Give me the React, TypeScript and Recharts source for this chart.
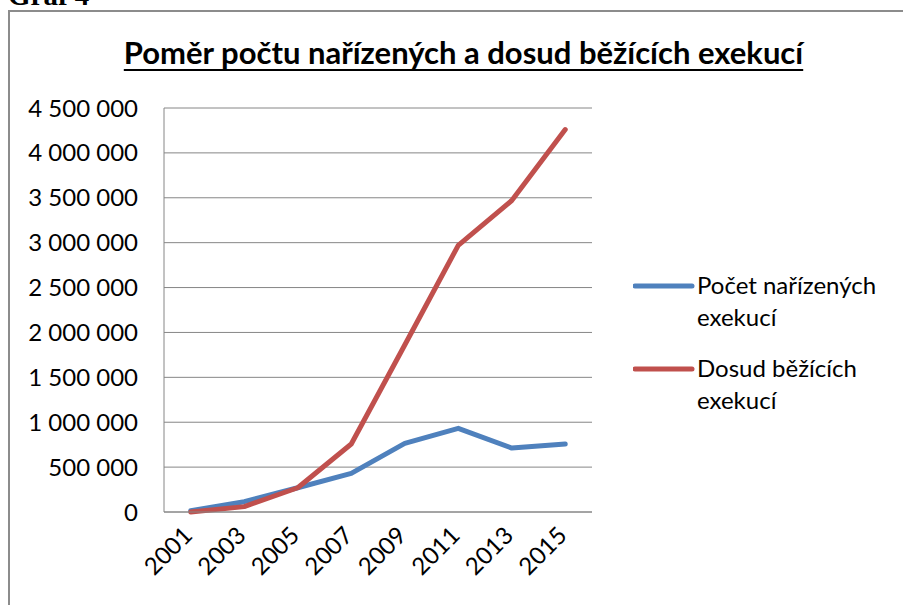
import React from "react";
import { LineChart, Line, XAxis, YAxis, CartesianGrid, Legend } from "recharts";

//========== Data ===========

const years = ["2001", "2003", "2005", "2007", "2009", "2011", "2013", "2015"];
const narizeneExekuce = [15000, 115000, 270000, 430000, 765000, 932000, 712000, 757000];
const beziciExekuce = [0, 60000, 270000, 757000, 1860000, 2970000, 3470000, 4260000];
const yTicks = [0, 500000, 1000000, 1500000, 2000000, 2500000, 3000000, 3500000, 4000000, 4500000];

const chartTitle = "Poměr počtu nařízených a dosud běžících exekucí";
const seriesNames = ["Počet nařízených exekucí", "Dosud běžících exekucí"];
const seriesColors = ["#4F81BD", "#C0504D"];

const data = years.map((year, i) => ({
  year,
  narizene: narizeneExekuce[i],
  bezici: beziciExekuce[i],
}));

const GRID = "#868686";
const FONT = "Lato, 'Open Sans', sans-serif";

const formatThousands = (v: number) =>
  String(v).replace(/\B(?=(\d{3})+(?!\d))/g, " ");

// rotated year labels, the way Excel draws them
const YearTick = (props: any) => {
  const { x, y, payload } = props;
  return (
    <g transform={`translate(${x + 3},${y + 25})`}>
      <text
        textAnchor="end"
        transform="rotate(-45)"
        fontSize={24}
        fontFamily={FONT}
        fill="#000"
      >
        {payload.value}
      </text>
    </g>
  );
};

const renderLegend = (props: any) => {
  const { payload } = props;
  return (
    <div style={{ fontFamily: FONT, fontSize: 24, lineHeight: "32px", color: "#000" }}>
      {payload.map((entry: any, i: number) => (
        <div
          key={i}
          style={{ display: "flex", alignItems: "flex-start", marginBottom: 19 }}
        >
          <svg width={64} height={32} style={{ flexShrink: 0 }}>
            <line
              x1={2}
              y1={17}
              x2={59}
              y2={17}
              stroke={entry.color}
              strokeWidth={5}
              strokeLinecap="round"
            />
          </svg>
          <div style={{ width: 200 }}>{entry.value}</div>
        </div>
      ))}
    </div>
  );
};

const App: React.FC = () => {
  return (
    <div
      style={{
        position: "absolute",
        left: 0,
        top: 0,
        width: 903,
        height: 605,
        overflow: "hidden",
        background: "#fff",
      }}
    >
      {/* ====== Caption above the chart (cut off, as in the source) ====== */}
      <div
        style={{
          position: "absolute",
          left: 8,
          top: -19,
          fontFamily: "'Liberation Serif', 'Times New Roman', serif",
          fontWeight: "bold",
          fontSize: 29,
          lineHeight: "29px",
          color: "#000",
        }}
      >
        Graf 4
      </div>

      {/* ====== Chart frame ====== */}
      <div
        style={{
          position: "absolute",
          left: 8,
          top: 10,
          width: 1000,
          height: 1000,
          border: "2px solid #8c8c8c",
        }}
      />

      {/* ====== Title ====== */}
      <div
        style={{
          position: "absolute",
          left: 0,
          width: 927,
          top: 34,
          textAlign: "center",
          fontFamily: FONT,
          fontWeight: "bold",
          fontSize: 31,
          lineHeight: "36px",
          color: "#000",
          textDecoration: "underline",
          textDecorationThickness: 2,
          textUnderlineOffset: 5,
        }}
      >
        {chartTitle}
      </div>

      {/* ====== Chart ====== */}
      <div style={{ position: "absolute", left: 0, top: 0 }}>
        <LineChart
          width={903}
          height={605}
          data={data}
          margin={{ top: 108, right: 311, bottom: 0, left: 0 }}
          style={{ fontFamily: FONT }}
        >
          <CartesianGrid vertical={false} stroke={GRID} strokeWidth={1} />
          <XAxis
            dataKey="year"
            height={93}
            padding={{ left: 26.75, right: 26.75 }}
            stroke={GRID}
            tickLine={false}
            tickSize={0}
            tickMargin={0}
            interval={0}
            tick={<YearTick />}
          />
          <YAxis
            width={164}
            domain={[0, 4500000]}
            ticks={yTicks}
            interval={0}
            stroke={GRID}
            tickLine={false}
            tickSize={0}
            tickMargin={26}
            tickFormatter={formatThousands}
            tick={{ fontSize: 24, fill: "#000", fontFamily: FONT }}
          />
          <Legend
            layout="vertical"
            align="center"
            verticalAlign="middle"
            content={renderLegend}
            itemSorter={(item: any) => seriesNames.indexOf(item.value)}
            wrapperStyle={{ left: 633, top: 269, width: 270 }}
          />
          <Line
            type="linear"
            dataKey="narizene"
            name={seriesNames[0]}
            stroke={seriesColors[0]}
            strokeWidth={5}
            strokeLinecap="round"
            strokeLinejoin="round"
            dot={false}
            activeDot={false}
            isAnimationActive={false}
          />
          <Line
            type="linear"
            dataKey="bezici"
            name={seriesNames[1]}
            stroke={seriesColors[1]}
            strokeWidth={5}
            strokeLinecap="round"
            strokeLinejoin="round"
            dot={false}
            activeDot={false}
            isAnimationActive={false}
          />
        </LineChart>
      </div>
    </div>
  );
};

export default App;
